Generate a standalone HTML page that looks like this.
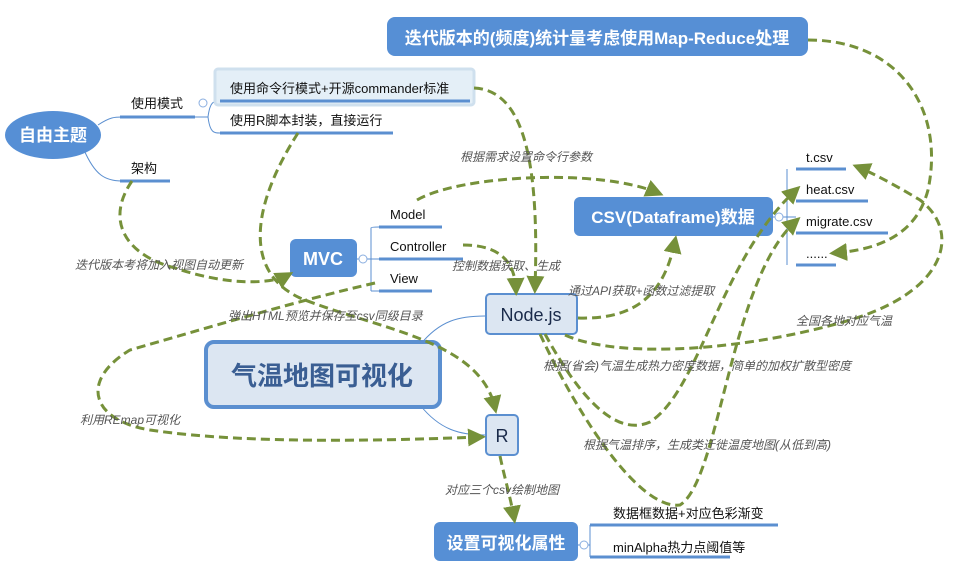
<!DOCTYPE html>
<html><head><meta charset="utf-8"><style>
body{margin:0;background:#fff}
svg{display:block}
text{font-family:"Liberation Sans","Noto Sans CJK SC",sans-serif}
.l{font-size:12px;fill:#555;font-style:italic}
.n{font-size:13px;fill:#111}
.w{fill:#fff;font-weight:bold}
.d{fill:none;stroke:#76913a;stroke-width:3;stroke-dasharray:9 5;marker-end:url(#a)}
.t{fill:none;stroke:#5b8fd0;stroke-width:1}
.u{stroke:#5b8fd0;stroke-width:3}
</style></head><body>
<svg width="967" height="567" viewBox="0 0 967 567">
<defs><marker id="a" markerWidth="6" markerHeight="6" refX="4" refY="3" orient="auto" markerUnits="strokeWidth"><path d="M0,0 L6,3 L0,6 z" fill="#76913a"/></marker></defs>

<!-- thin connectors -->
<path class="t" d="M98,125 C110,117 115,117 122,117"/>
<path class="t" d="M84,150 C95,175 105,181 122,181"/>
<path class="t" d="M195,117 L208,117 M208,117 C210,101 214,101 220,101 M208,117 C210,133 214,133 220,133"/>
<path class="t" d="M371,228 L371,291 M357,259 L379,259 M371,228 Q371,227 379,227 M371,291 Q371,291 379,291"/>
<path class="t" d="M787,169 L787,265 M773,217 L796,217"/>
<path class="t" d="M578,545 L590,545 M590,525 L590,557"/>
<path class="t" d="M420,345 C440,320 460,316 485,316"/>
<path class="t" d="M420,405 C440,430 460,435 485,435"/>

<!-- nodes -->
<rect x="387" y="17" width="421" height="39" rx="8" fill="#568fd5"/>
<text x="597" y="44" text-anchor="middle" class="w" font-size="17">迭代版本的(频度)统计量考虑使用Map-Reduce处理</text>

<ellipse cx="53" cy="135" rx="48" ry="24" fill="#568fd5"/>
<text x="53" y="141" text-anchor="middle" class="w" font-size="17">自由主题</text>

<text x="131" y="108" class="n">使用模式</text><line class="u" x1="120" y1="117" x2="195" y2="117"/>
<circle cx="203" cy="103" r="4" fill="#fff" stroke="#8aaee0"/>
<rect x="215" y="69" width="259" height="36" rx="3" fill="#e4eff7" stroke="#cfe0ee" stroke-width="3"/>
<text x="230" y="93" class="n">使用命令行模式+开源commander标准</text><line class="u" x1="220" y1="101" x2="470" y2="101"/>
<text x="230" y="125" class="n">使用R脚本封装，直接运行</text><line class="u" x1="220" y1="133" x2="393" y2="133"/>
<text x="131" y="173" class="n">架构</text><line class="u" x1="120" y1="181" x2="170" y2="181"/>

<rect x="290" y="239" width="67" height="38" rx="6" fill="#568fd5"/>
<text x="323" y="265" text-anchor="middle" class="w" font-size="18">MVC</text>
<circle cx="363" cy="259" r="4" fill="#fff" stroke="#8aaee0"/>
<text x="390" y="219" class="n">Model</text><line class="u" x1="379" y1="227" x2="442" y2="227"/>
<text x="390" y="251" class="n">Controller</text><line class="u" x1="379" y1="259" x2="463" y2="259"/>
<text x="390" y="283" class="n">View</text><line class="u" x1="379" y1="291" x2="432" y2="291"/>

<rect x="486" y="294" width="91" height="40" rx="4" fill="#dce6f2" stroke="#5b8fd0" stroke-width="2"/>
<text x="531" y="321" text-anchor="middle" font-size="18" fill="#1a2a4a">Node.js</text>

<rect x="206" y="342" width="234" height="65" rx="8" fill="#dce6f2" stroke="#5b8fd0" stroke-width="4"/>
<text x="322" y="385" text-anchor="middle" font-size="26" font-weight="bold" fill="#3a5e93">气温地图可视化</text>

<rect x="486" y="415" width="32" height="40" rx="4" fill="#dce6f2" stroke="#5b8fd0" stroke-width="2"/>
<text x="502" y="442" text-anchor="middle" font-size="18" fill="#1a2a4a">R</text>

<rect x="434" y="522" width="144" height="39" rx="6" fill="#568fd5"/>
<text x="506" y="549" text-anchor="middle" class="w" font-size="17">设置可视化属性</text>
<circle cx="584" cy="545" r="4" fill="#fff" stroke="#8aaee0"/>
<text x="613" y="518" class="n">数据框数据+对应色彩渐变</text><line class="u" x1="590" y1="525" x2="778" y2="525"/>
<text x="613" y="552" class="n">minAlpha热力点阈值等</text><line class="u" x1="590" y1="557" x2="730" y2="557"/>

<rect x="574" y="197" width="199" height="39" rx="6" fill="#568fd5"/>
<text x="673" y="223" text-anchor="middle" class="w" font-size="17">CSV(Dataframe)数据</text>
<circle cx="779" cy="217" r="4" fill="#fff" stroke="#8aaee0"/>
<text x="806" y="162" class="n">t.csv</text><line class="u" x1="796" y1="169" x2="846" y2="169"/>
<text x="806" y="194" class="n">heat.csv</text><line class="u" x1="796" y1="201" x2="868" y2="201"/>
<text x="806" y="226" class="n">migrate.csv</text><line class="u" x1="796" y1="233" x2="888" y2="233"/>
<text x="806" y="258" class="n">......</text><line class="u" x1="796" y1="265" x2="836" y2="265"/>

<!-- dashed relations -->
<path class="d" d="M474,88 C520,90 540,150 535,288"/>
<path class="d" d="M808,40 C900,40 945,110 928,190 C915,240 870,250 835,253"/>
<path class="d" d="M298,133 C255,200 240,270 300,298 C380,330 480,340 495,408"/>
<path class="d" d="M132,181 C105,220 125,255 175,268 C225,285 270,285 288,275"/>
<path class="d" d="M375,283 C300,300 200,330 130,350 C80,380 90,420 150,430 C250,445 400,440 480,437"/>
<path class="d" d="M417,200 C460,175 600,168 658,193"/>
<path class="d" d="M463,245 C500,245 515,262 516,290"/>
<path class="d" d="M578,318 C640,320 665,290 675,241"/>
<path class="d" d="M565,335 C620,360 750,350 850,320 C950,290 960,230 920,200 C890,182 870,172 858,167"/>
<path class="d" d="M545,334 C570,380 610,440 650,422 C700,390 720,260 796,190"/>
<path class="d" d="M540,334 C580,420 640,510 680,505 C720,480 730,280 796,221"/>
<path class="d" d="M500,456 C505,480 510,495 514,518"/>

<!-- labels -->
<text x="460" y="161" class="l">根据需求设置命令行参数</text>
<text x="75" y="269" class="l">迭代版本考将加入视图自动更新</text>
<text x="452" y="270" class="l">控制数据获取、生成</text>
<text x="568" y="295" class="l">通过API获取+函数过滤提取</text>
<text x="228" y="320" class="l">弹出HTML预览并保存至csv同级目录</text>
<text x="796" y="325" class="l">全国各地对应气温</text>
<text x="543" y="370" class="l">根据(省会)气温生成热力密度数据，简单的加权扩散型密度</text>
<text x="80" y="424" class="l">利用REmap可视化</text>
<text x="583" y="449" class="l">根据气温排序，生成类迁徙温度地图(从低到高)</text>
<text x="445" y="494" class="l">对应三个csv绘制地图</text>
</svg>
</body></html>
